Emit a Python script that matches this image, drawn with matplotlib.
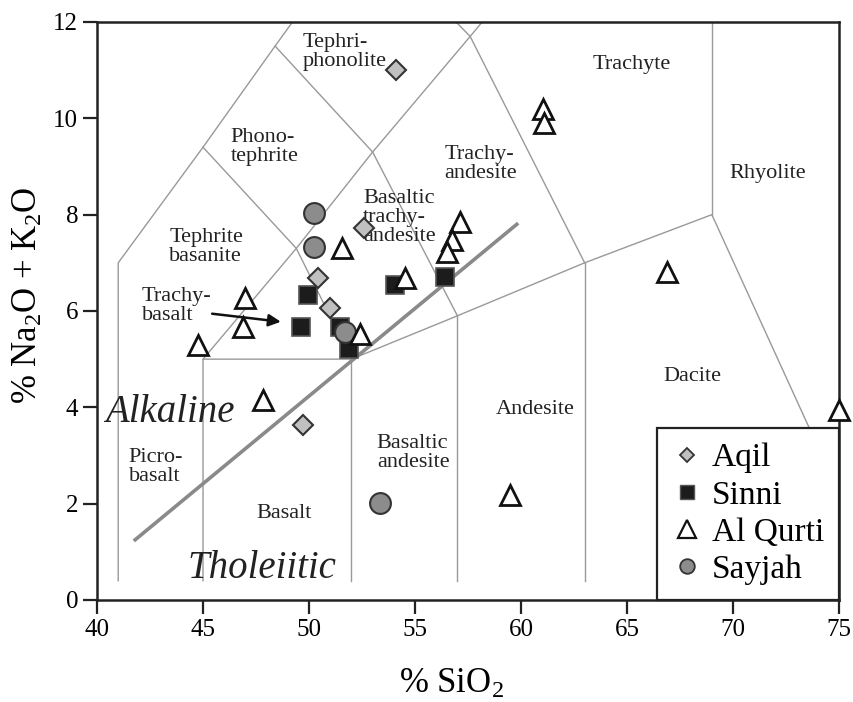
import matplotlib
matplotlib.use('Agg')
import matplotlib.pyplot as plt
from matplotlib.lines import Line2D

plt.rcParams['font.family'] = ['Liberation Serif', 'DejaVu Serif']
plt.rcParams['mathtext.fontset'] = 'custom'
plt.rcParams['mathtext.rm'] = 'Liberation Serif'
plt.rcParams['mathtext.it'] = 'Liberation Serif:italic'

# samples: SiO2 (wt%) and Na2O+K2O (wt%)
aqil_x = [54.1, 52.6, 50.4, 51.0, 49.7]
aqil_y = [11.0, 7.72, 6.68, 6.06, 3.63]
sinni_x = [49.95, 49.6, 51.45, 51.9, 54.05, 56.4]
sinni_y = [6.33, 5.66, 5.66, 5.22, 6.53, 6.71]
qurti_x = [51.55, 46.98, 46.9, 44.76, 47.83, 52.4, 54.55, 57.12, 56.75, 56.5,
           61.04, 61.1, 66.9, 75.0, 59.5]
qurti_y = [7.3, 6.26, 5.67, 5.29, 4.15, 5.53, 6.68, 7.84, 7.47, 7.22,
           10.2, 9.9, 6.8, 3.95, 2.18]
sayjah_x = [50.24, 50.24, 51.7, 53.35]
sayjah_y = [8.03, 7.33, 5.56, 2.01]

# TAS field boundaries (Le Bas et al.)
tas_lines = [
    [(41, 0.4), (41, 7), (45, 9.4), (48.4, 11.5), (52.5, 14)],
    [(45, 0.4), (45, 5), (52, 5), (57, 5.9), (63, 7), (69, 8), (77.3, 0)],
    [(52, 0.4), (52, 5)],
    [(57, 0.4), (57, 5.9)],
    [(63, 0.4), (63, 7)],
    [(69, 8), (69, 13)],
    [(45, 5), (49.4, 7.3), (53, 9.3), (57.6, 11.7), (61, 13.5)],
    [(45, 9.4), (49.4, 7.3), (52, 5)],
    [(48.4, 11.5), (53, 9.3), (57, 5.9)],
    [(52.5, 14), (57.6, 11.7), (63, 7)],
]
alk_x = [41.8, 59.8]
alk_y = [1.25, 7.8]

field_names = ['Tephri-\nphonolite', 'Phono-\ntephrite', 'Tephrite\nbasanite',
               'Trachy-\nbasalt', 'Basaltic\ntrachy-\nandesite', 'Trachy-\nandesite',
               'Trachyte', 'Rhyolite', 'Dacite', 'Andesite', 'Basaltic\nandesite',
               'Picro-\nbasalt', 'Basalt']
field_x = [49.7, 46.3, 43.4, 42.1, 52.55, 56.4, 65.2, 71.65, 68.1, 60.65, 53.2, 41.5, 48.8]
field_y = [11.37, 9.4, 7.33, 6.1, 7.95, 9.05, 11.12, 8.86, 4.63, 3.96, 3.05, 2.76, 1.8]
field_ha = ['left', 'left', 'left', 'left', 'left', 'left', 'center', 'center',
            'center', 'center', 'left', 'left', 'center']

fig = plt.figure(figsize=(8.54, 7.02), dpi=100)
ax = fig.add_axes([0.1136, 0.1453, 0.8689, 0.8234])

for ln in tas_lines:
    xs = [p[0] for p in ln]
    ys = [p[1] for p in ln]
    ax.plot(xs, ys, color='#999999', lw=1.0, zorder=1)
ax.plot(alk_x, alk_y, color='#8a8a8a', lw=2.6, zorder=2)

for name, x, y, ha in zip(field_names, field_x, field_y, field_ha):
    ax.text(x, y, name, fontsize=16, ha=ha, va='center', linespacing=1.0,
            color='#222222', zorder=3)

ax.text(43.45, 3.9, 'Alkaline', fontsize=28, style='italic', ha='center',
        va='center', color='#222222', zorder=3)
ax.text(47.8, 0.66, 'Tholeiitic', fontsize=28, style='italic', ha='center',
        va='center', color='#222222', zorder=3)
ax.annotate('', xy=(48.8, 5.77), xytext=(45.3, 5.95),
            arrowprops=dict(arrowstyle='-|>', color='#111111', lw=1.8,
                            mutation_scale=18), zorder=3)

ax.plot(sinni_x, sinni_y, 's', ms=13.5, mfc='#1c1c1c', mec='#555555', mew=1.2, zorder=4)
ax.plot(aqil_x, aqil_y, 'D', ms=10.5, mfc='#c0c0c0', mec='#333333', mew=1.5, zorder=5)
ax.plot(sayjah_x, sayjah_y, 'o', ms=15, mfc='#8c8c8c', mec='#333333', mew=1.5, zorder=5)
ax.plot(qurti_x, qurti_y, '^', ms=15, mfc='white', mec='#111111', mew=2.0, zorder=6,
        clip_on=False)

handles = [
    Line2D([], [], ls='none', marker='D', ms=7.5, mfc='#c0c0c0', mec='#333333', mew=1.3),
    Line2D([], [], ls='none', marker='s', ms=10, mfc='#1c1c1c', mec='#555555', mew=1.0),
    Line2D([], [], ls='none', marker='^', ms=13, mfc='white', mec='#111111', mew=1.6),
    Line2D([], [], ls='none', marker='o', ms=10.5, mfc='#8c8c8c', mec='#333333', mew=1.3),
]
leg = ax.legend(handles, ['Aqil', 'Sinni', 'Al Qurti', 'Sayjah'], loc='lower right',
                bbox_to_anchor=(1, 0), borderaxespad=0, fontsize=24, frameon=True,
                fancybox=False, framealpha=1, handlelength=0.9, handletextpad=0.3,
                labelspacing=0.2, borderpad=0.45)
leg.get_frame().set_edgecolor('#222222')
leg.get_frame().set_linewidth(1.6)
leg.set_zorder(7)

ax.set_xlim(40, 75)
ax.set_ylim(0, 12)
ax.set_xticks(range(40, 76, 5))
ax.set_yticks(range(0, 13, 2))
ax.tick_params(direction='out', length=10, width=1.6, labelsize=18, color='#222222')
for s in ax.spines.values():
    s.set_linewidth(1.8)
    s.set_color('#222222')

ax.set_xlabel('% SiO$_2$', fontsize=25)
ax.set_ylabel('% Na$_2$O + K$_2$O', fontsize=25)
ax.xaxis.set_label_coords(0.477, -0.118)
ax.yaxis.set_label_coords(-0.093, 0.528)
ax.yaxis.label.set_va('center')

fig.savefig('out.png', dpi=100)
